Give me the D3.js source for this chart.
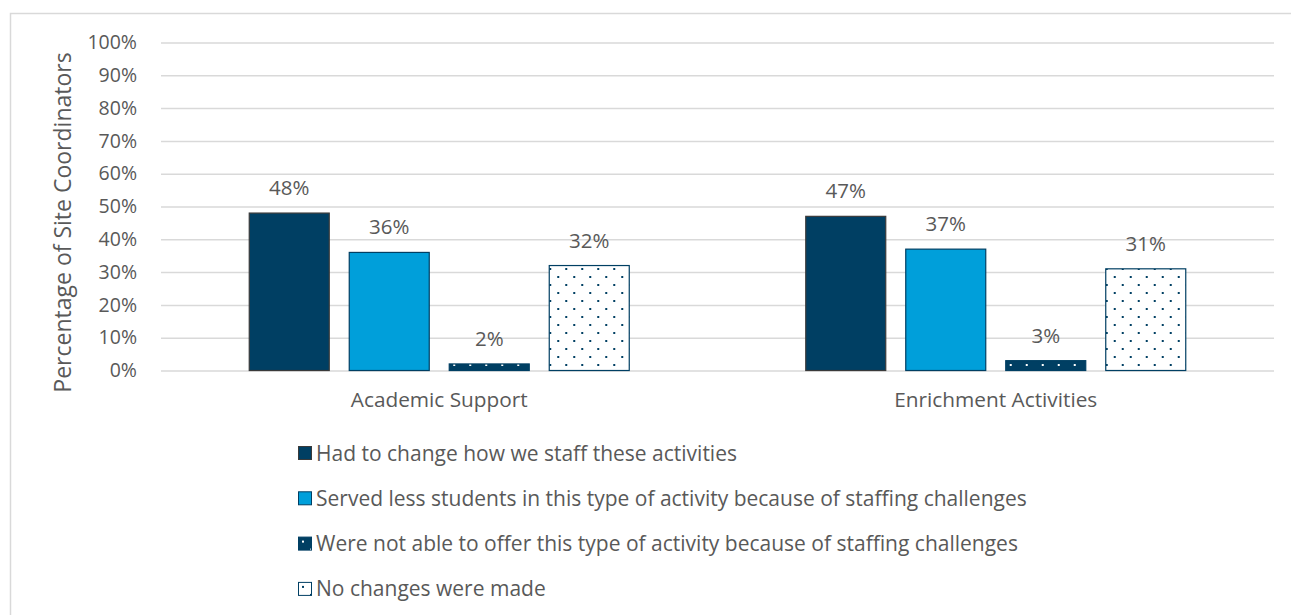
<!DOCTYPE html>
<html>
<head>
<meta charset="utf-8">
<script src="https://cdn.jsdelivr.net/npm/d3@7"></script>
<style>
  html, body { margin: 0; padding: 0; background: #fff; }
  svg { display: block; }
  text { font-family: "Open Sans", sans-serif; fill: #595959; }
</style>
</head>
<body>
<svg id="chart" width="1291" height="615"></svg>
<script>
// Activity categories and the four response series (percent of site coordinators)
const categories = ["Academic Support", "Enrichment Activities"];
const seriesNames = [
  "Had to change how we staff these activities",
  "Served less students in this type of activity because of staffing challenges",
  "Were not able to offer this type of activity because of staffing challenges",
  "No changes were made"
];
const changedStaffing = [48, 47];
const servedFewer = [36, 37];
const notOffered = [2, 3];
const noChanges = [32, 31];
const yTicks = [0, 10, 20, 30, 40, 50, 60, 70, 80, 90, 100];

const seriesValues = [changedStaffing, servedFewer, notOffered, noChanges];

const NAVY = "#003F63";
const BLUE = "#009FDA";
const FONT = "'Open Sans', sans-serif";

const svg = d3.select("#chart");

// Patterns: navy dots on white, and white dots on navy
const defs = svg.append("defs");
function dotPattern(id, bg, dot) {
  const p = defs.append("pattern")
    .attr("id", id).attr("patternUnits", "userSpaceOnUse")
    .attr("width", 16).attr("height", 16);
  p.append("rect").attr("width", 16).attr("height", 16).attr("fill", bg);
  p.append("rect").attr("x", 4).attr("y", 4).attr("width", 2).attr("height", 2).attr("fill", dot);
  p.append("rect").attr("x", 12).attr("y", 12).attr("width", 2).attr("height", 2).attr("fill", dot);
}
dotPattern("dotsWhite", "#fff", NAVY);
dotPattern("dotsNavy", NAVY, "#fff");

const fills = [NAVY, BLUE, "url(#dotsNavy)", "url(#dotsWhite)"];
const strokes = ["#3a3a3a", NAVY, NAVY, NAVY];

// Outer chart frame
svg.append("rect")
  .attr("x", 10.5).attr("y", 13.5).attr("width", 1300).attr("height", 620)
  .attr("fill", "none").attr("stroke", "#d9d9d9").attr("stroke-width", 1.5);

const plot = { left: 161, right: 1274, top: 42.5, bottom: 370.5 };

const x0 = d3.scaleBand().domain(categories).range([plot.left, plot.right]);
const x1 = d3.scaleBand().domain(d3.range(seriesNames.length))
  .range([0, 380]).paddingInner(0.2);
const y = d3.scaleLinear().domain([0, 100]).range([plot.bottom, plot.top]);

// Gridlines + y tick labels
const yAxis = d3.axisLeft(y).tickValues(yTicks)
  .tickSize(-(plot.right - plot.left)).tickFormat(d => d + "%").tickPadding(24);
const yg = svg.append("g").attr("transform", `translate(${plot.left},0)`).call(yAxis);
yg.select(".domain").remove();
yg.selectAll(".tick line").attr("stroke", "#d9d9d9").attr("stroke-width", 1.5);
yg.selectAll(".tick text").attr("font-size", 19.5).attr("fill", "#595959")
  .style("font-family", FONT);

// Y axis title
svg.append("text")
  .attr("transform", `translate(71,${(plot.top + plot.bottom) / 2 + 16}) rotate(-90)`)
  .attr("text-anchor", "middle").attr("font-size", 23)
  .text("Percentage of Site Coordinators");

// Bars
const groups = svg.append("g").selectAll("g").data(categories).join("g")
  .attr("transform", c => `translate(${x0(c) + (x0.bandwidth() - 380) / 2},0)`);

groups.each(function (c, ci) {
  const g = d3.select(this);
  seriesValues.forEach((vals, si) => {
    const v = vals[ci];
    g.append("rect")
      .attr("x", x1(si)).attr("y", y(v))
      .attr("width", x1.bandwidth()).attr("height", y(0) - y(v))
      .attr("fill", fills[si]).attr("stroke", strokes[si]).attr("stroke-width", 1.2);
    g.append("text")
      .attr("x", x1(si) + x1.bandwidth() / 2).attr("y", y(v) - 18)
      .attr("text-anchor", "middle").attr("font-size", 20.5)
      .text(v + "%");
  });
});

// Category axis labels
const xAxis = d3.axisBottom(x0).tickSize(0).tickPadding(22);
const xg = svg.append("g").attr("transform", `translate(0,${plot.bottom})`).call(xAxis);
xg.select(".domain").remove();
xg.selectAll(".tick text").attr("font-size", 20.8).attr("fill", "#595959")
  .style("font-family", FONT);

// Legend
const legend = svg.append("g").selectAll("g").data(seriesNames).join("g")
  .attr("transform", (d, i) => `translate(298,${446 + i * 45.3})`);
legend.append("rect")
  .attr("x", 0.5).attr("y", 0.5).attr("width", 13).attr("height", 13)
  .attr("fill", (d, i) => fills[i]).attr("stroke", (d, i) => strokes[i]).attr("stroke-width", 1);
legend.append("text")
  .attr("x", 18).attr("y", 14.5).attr("font-size", 21)
  .text(d => d);
</script>
</body>
</html>
